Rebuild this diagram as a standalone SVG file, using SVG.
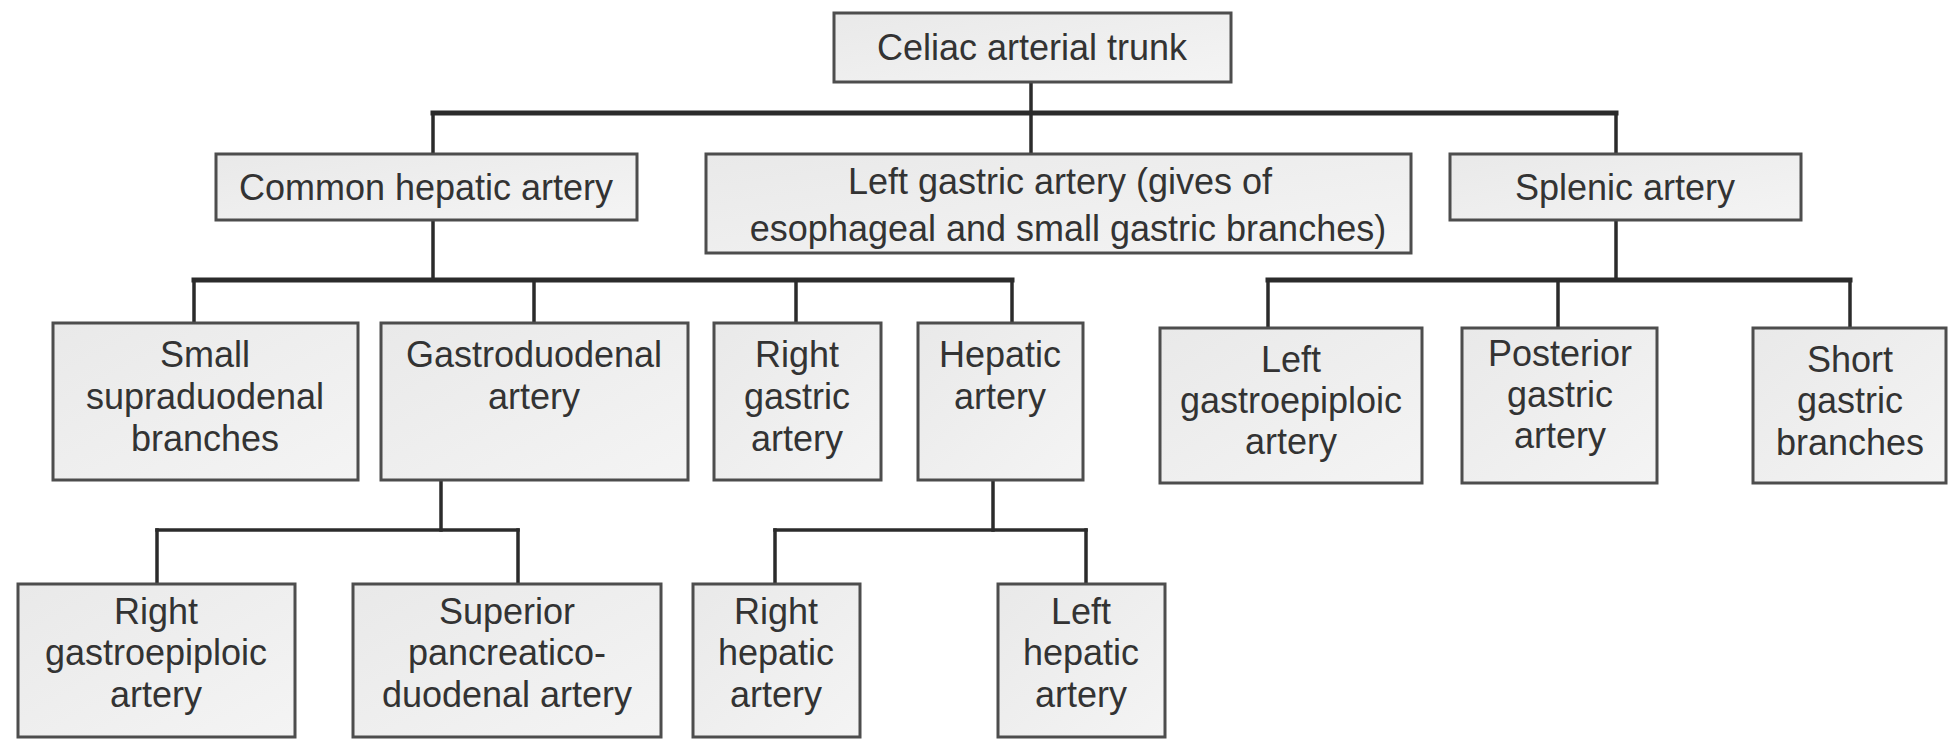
<svg xmlns="http://www.w3.org/2000/svg" width="1960" height="739" viewBox="0 0 1960 739">
<defs>
<linearGradient id="boxfill" x1="0" y1="0" x2="1" y2="1">
<stop offset="0" stop-color="#e9e9e9"/>
<stop offset="1" stop-color="#f4f4f4"/>
</linearGradient>
</defs>
<style>
.box{fill:url(#boxfill);stroke:#4d4d4d;stroke-width:3}
.t{font-family:"Liberation Sans",Arial,sans-serif;font-size:36px;fill:#333;text-anchor:middle}
.c{fill:none;stroke:#2b2b2b;stroke-width:3.5;stroke-linecap:square}
.h{fill:none;stroke:#2b2b2b;stroke-width:5;stroke-linecap:square}
</style>
<rect width="1960" height="739" fill="#ffffff"/>
<g id="connectors">
<line class="c" x1="1031" y1="82" x2="1031" y2="154"/>
<line class="h" x1="433" y1="113" x2="1616" y2="113"/>
<line class="c" x1="433" y1="113" x2="433" y2="154"/>
<line class="c" x1="1616" y1="113" x2="1616" y2="154"/>
<line class="c" x1="433" y1="220" x2="433" y2="280"/>
<line class="h" x1="194" y1="280" x2="1012" y2="280"/>
<line class="c" x1="194" y1="280" x2="194" y2="323"/>
<line class="c" x1="534" y1="280" x2="534" y2="323"/>
<line class="c" x1="796" y1="280" x2="796" y2="323"/>
<line class="c" x1="1012" y1="280" x2="1012" y2="323"/>
<line class="c" x1="1616" y1="220" x2="1616" y2="280"/>
<line class="h" x1="1268" y1="280" x2="1850" y2="280"/>
<line class="c" x1="1268" y1="280" x2="1268" y2="328"/>
<line class="c" x1="1558" y1="280" x2="1558" y2="328"/>
<line class="c" x1="1850" y1="280" x2="1850" y2="328"/>
<line class="c" x1="441" y1="480" x2="441" y2="530"/>
<line class="c" x1="157" y1="530" x2="518" y2="530"/>
<line class="c" x1="157" y1="530" x2="157" y2="584"/>
<line class="c" x1="518" y1="530" x2="518" y2="584"/>
<line class="c" x1="993" y1="480" x2="993" y2="530"/>
<line class="c" x1="775" y1="530" x2="1086" y2="530"/>
<line class="c" x1="775" y1="530" x2="775" y2="584"/>
<line class="c" x1="1086" y1="530" x2="1086" y2="584"/>
</g>
<g id="celiac">
<rect class="box" x="834" y="13" width="397" height="69"/>
<text class="t" x="1032" y="60">Celiac arterial trunk</text>
</g>
<g id="common-hepatic">
<rect class="box" x="216" y="154" width="421" height="66"/>
<text class="t" x="426" y="200">Common hepatic artery</text>
</g>
<g id="left-gastric">
<rect class="box" x="706" y="154" width="705" height="99"/>
<text class="t" x="1060" y="194">Left gastric artery (gives of</text>
<text class="t" x="1068" y="241">esophageal and small gastric branches)</text>
</g>
<g id="splenic">
<rect class="box" x="1450" y="154" width="351" height="66"/>
<text class="t" x="1625" y="200">Splenic artery</text>
</g>
<g id="small-supraduodenal">
<rect class="box" x="53" y="323" width="305" height="157"/>
<text class="t" x="205" y="367">Small</text>
<text class="t" x="205" y="409">supraduodenal</text>
<text class="t" x="205" y="451">branches</text>
</g>
<g id="gastroduodenal">
<rect class="box" x="381" y="323" width="307" height="157"/>
<text class="t" x="534" y="367">Gastroduodenal</text>
<text class="t" x="534" y="409">artery</text>
</g>
<g id="right-gastric">
<rect class="box" x="714" y="323" width="167" height="157"/>
<text class="t" x="797" y="367">Right</text>
<text class="t" x="797" y="409">gastric</text>
<text class="t" x="797" y="451">artery</text>
</g>
<g id="hepatic">
<rect class="box" x="918" y="323" width="165" height="157"/>
<text class="t" x="1000" y="367">Hepatic</text>
<text class="t" x="1000" y="409">artery</text>
</g>
<g id="left-gastroepiploic">
<rect class="box" x="1160" y="328" width="262" height="155"/>
<text class="t" x="1291" y="372">Left</text>
<text class="t" x="1291" y="413">gastroepiploic</text>
<text class="t" x="1291" y="454">artery</text>
</g>
<g id="posterior-gastric">
<rect class="box" x="1462" y="328" width="195" height="155"/>
<text class="t" x="1560" y="366">Posterior</text>
<text class="t" x="1560" y="407">gastric</text>
<text class="t" x="1560" y="448">artery</text>
</g>
<g id="short-gastric">
<rect class="box" x="1753" y="328" width="193" height="155"/>
<text class="t" x="1850" y="372">Short</text>
<text class="t" x="1850" y="413">gastric</text>
<text class="t" x="1850" y="455">branches</text>
</g>
<g id="right-gastroepiploic">
<rect class="box" x="18" y="584" width="277" height="153"/>
<text class="t" x="156" y="624">Right</text>
<text class="t" x="156" y="665">gastroepiploic</text>
<text class="t" x="156" y="707">artery</text>
</g>
<g id="superior-pancreaticoduodenal">
<rect class="box" x="353" y="584" width="308" height="153"/>
<text class="t" x="507" y="624">Superior</text>
<text class="t" x="507" y="665">pancreatico-</text>
<text class="t" x="507" y="707">duodenal artery</text>
</g>
<g id="right-hepatic">
<rect class="box" x="693" y="584" width="167" height="153"/>
<text class="t" x="776" y="624">Right</text>
<text class="t" x="776" y="665">hepatic</text>
<text class="t" x="776" y="707">artery</text>
</g>
<g id="left-hepatic">
<rect class="box" x="998" y="584" width="167" height="153"/>
<text class="t" x="1081" y="624">Left</text>
<text class="t" x="1081" y="665">hepatic</text>
<text class="t" x="1081" y="707">artery</text>
</g>
</svg>
